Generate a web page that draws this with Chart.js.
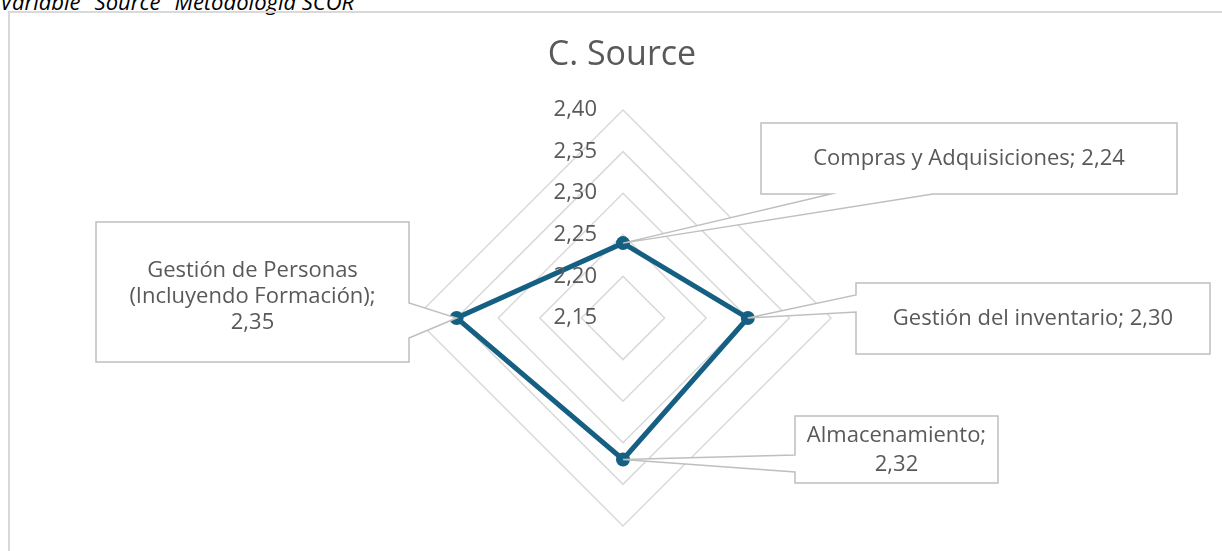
<!DOCTYPE html>
<html>
<head>
<meta charset="utf-8">
<script src="https://cdn.jsdelivr.net/npm/chart.js@4"></script>
<style>
  html, body { margin: 0; padding: 0; background: #fff; overflow: hidden; }
  #wrap { position: relative; width: 1222px; height: 551px; }
  #caption { position: absolute; left: 0; top: -9px; font: italic 22px "Open Sans"; line-height: 20px; color: #000; white-space: nowrap; }
  #frame { position: absolute; left: 8px; top: 11px; width: 1240px; height: 560px; border: 2px solid #d9d9d9; }
  #chart { position: absolute; left: 0; top: 0; }
</style>
</head>
<body>
<div id="wrap">
  <div id="caption">Variable "Source" Metodología SCOR</div>
  <div id="frame"></div>
  <canvas id="chart" width="1222" height="551"></canvas>
</div>
<script>
const chartTitle = 'C. Source';
const categories = ['Compras y Adquisiciones', 'Gestión del inventario', 'Almacenamiento', 'Gestión de Personas (Incluyendo Formación)'];
const values = [2.24, 2.30, 2.32, 2.35];
const tickValues = [2.15, 2.20, 2.25, 2.30, 2.35, 2.40];

const TEXT = '#595959';
const FONT = '"Open Sans", "DejaVu Sans", sans-serif';

// data label boxes: [left, top, right, bottom], the edge the pointer leaves from and where it opens
const callouts = [
  { box: [761, 123, 1177, 194], side: 'bottom', gap: [831, 933], textY: 159, maxWidth: 400, lh: 26 },
  { box: [856, 283, 1210, 354], side: 'left', gap: [295, 312], textY: 319, maxWidth: 340, lh: 26 },
  { box: [795, 416, 998, 483], side: 'left', gap: [455, 472], textY: 450, maxWidth: 190, lh: 29 },
  { box: [96, 222, 409, 362], side: 'right', gap: [303, 338], textY: 297, maxWidth: 262, lh: 26 },
];

const fmt = v => v.toFixed(2).replace('.', ',');

function wrapText(ctx, text, maxWidth) {
  const words = text.split(' ');
  const lines = [];
  let cur = '';
  for (const w of words) {
    const test = cur ? cur + ' ' + w : w;
    if (cur && ctx.measureText(test).width > maxWidth) {
      lines.push(cur);
      cur = w;
    } else {
      cur = test;
    }
  }
  if (cur) lines.push(cur);
  return lines;
}

const decorPlugin = {
  id: 'decor',
  afterDraw(chart) {
    const { ctx } = chart;
    const scale = chart.scales.r;
    ctx.save();

    // title
    ctx.fillStyle = TEXT;
    ctx.font = '34px ' + FONT;
    ctx.textAlign = 'center';
    ctx.textBaseline = 'alphabetic';
    ctx.fillText(chartTitle, 622, 65);

    // value axis labels up the left of the top spoke
    ctx.font = '22px ' + FONT;
    ctx.textAlign = 'right';
    ctx.textBaseline = 'middle';
    scale.ticks.forEach(t => {
      const y = scale.yCenter - scale.getDistanceFromCenterForValue(t.value);
      ctx.fillText(fmt(t.value), scale.xCenter - 26, y);
    });

    // data label callouts
    const pts = chart.getDatasetMeta(0).data;
    callouts.forEach((c, i) => {
      const p = pts[i];
      const [x1, y1, x2, y2] = c.box;
      ctx.beginPath();
      if (c.side === 'bottom') {
        ctx.moveTo(x1, y1); ctx.lineTo(x2, y1); ctx.lineTo(x2, y2);
        ctx.lineTo(c.gap[1], y2); ctx.lineTo(p.x, p.y); ctx.lineTo(c.gap[0], y2);
        ctx.lineTo(x1, y2);
      } else if (c.side === 'left') {
        ctx.moveTo(x1, y1); ctx.lineTo(x2, y1); ctx.lineTo(x2, y2); ctx.lineTo(x1, y2);
        ctx.lineTo(x1, c.gap[1]); ctx.lineTo(p.x, p.y); ctx.lineTo(x1, c.gap[0]);
      } else {
        ctx.moveTo(x1, y1); ctx.lineTo(x2, y1); ctx.lineTo(x2, c.gap[0]);
        ctx.lineTo(p.x, p.y); ctx.lineTo(x2, c.gap[1]); ctx.lineTo(x2, y2);
        ctx.lineTo(x1, y2);
      }
      ctx.closePath();
      ctx.fillStyle = '#fff';
      ctx.fill();
      ctx.strokeStyle = '#bfbfbf';
      ctx.lineWidth = 1.5;
      ctx.stroke();

      ctx.fillStyle = TEXT;
      ctx.font = '22px ' + FONT;
      ctx.textAlign = 'center';
      ctx.textBaseline = 'middle';
      const lines = wrapText(ctx, categories[i] + '; ' + fmt(values[i]), c.maxWidth);
      const cx = (x1 + x2) / 2;
      lines.forEach((ln, k) => {
        ctx.fillText(ln, cx, c.textY + (k - (lines.length - 1) / 2) * c.lh);
      });
    });
    ctx.restore();
  }
};

new Chart(document.getElementById('chart'), {
  type: 'radar',
  data: {
    labels: categories,
    datasets: [{
      label: chartTitle,
      data: values,
      borderColor: '#156082',
      backgroundColor: '#156082',
      borderWidth: 5,
      pointRadius: 7,
      pointBackgroundColor: '#156082',
      pointBorderWidth: 0,
      fill: false,
      tension: 0,
    }]
  },
  options: {
    responsive: false,
    animation: false,
    layout: { padding: { top: 110, bottom: 24, left: 24, right: 0 } },
    plugins: {
      legend: { display: false },
      title: { display: false },
      tooltip: { enabled: false },
    },
    scales: {
      r: {
        min: 2.15,
        max: 2.40,
        afterBuildTicks: s => { s.ticks = tickValues.map(v => ({ value: v })); },
        ticks: { display: false },
        grid: { color: '#d9d9d9', lineWidth: 1.5 },
        angleLines: { display: false },
        pointLabels: { display: false },
      }
    }
  },
  plugins: [decorPlugin],
});
</script>
</body>
</html>
